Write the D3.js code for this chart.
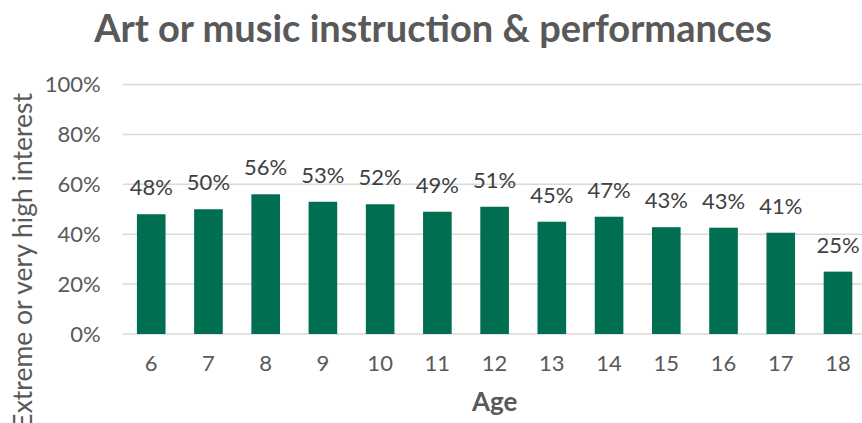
<!DOCTYPE html>
<html>
<head>
<meta charset="utf-8">
<script src="https://cdn.jsdelivr.net/npm/d3@7"></script>
<style>
  body { margin: 0; background: #fff; }
  svg { display: block; font-family: Lato, "Open Sans", sans-serif; }
</style>
</head>
<body>
<div class="chart"></div>
<script>
const ages = ["6", "7", "8", "9", "10", "11", "12", "13", "14", "15", "16", "17", "18"];
const interest = [48, 50, 56, 53, 52, 49, 51, 45, 47, 42.8, 42.6, 40.6, 25];
const yTicks = [0, 20, 40, 60, 80, 100];

const width = 862, height = 423;
const plot = { left: 122.6, right: 866.6, top: 84.5, bottom: 334 };

const svg = d3.select(".chart")
  .append("svg")
  .attr("width", width)
  .attr("height", height);

const x = d3.scaleBand()
  .domain(ages)
  .range([plot.left, plot.right])
  .paddingInner(0.5)
  .paddingOuter(0.25);

const y = d3.scaleLinear()
  .domain([0, 100])
  .range([plot.bottom, plot.top]);

// gridlines
svg.append("g")
  .selectAll("line")
  .data(yTicks)
  .join("line")
  .attr("x1", plot.left)
  .attr("x2", width)
  .attr("y1", d => y(d))
  .attr("y2", d => y(d))
  .attr("stroke", "#d9d9d9")
  .attr("stroke-width", 1.5);

// y axis labels
const yAxis = svg.append("g")
  .attr("transform", `translate(${plot.left - 22},0)`)
  .call(d3.axisLeft(y).tickValues(yTicks).tickFormat(d => d + "%").tickSize(0).tickPadding(0));
yAxis.select(".domain").remove();
yAxis.selectAll("text")
  .attr("font-size", 22)
  .attr("font-family", "Lato, sans-serif")
  .attr("fill", "#595959");

// x axis labels
const xAxis = svg.append("g")
  .attr("transform", `translate(0,${plot.bottom})`)
  .call(d3.axisBottom(x).tickSize(0).tickPadding(21));
xAxis.select(".domain").remove();
xAxis.selectAll("text")
  .attr("font-size", 22)
  .attr("font-family", "Lato, sans-serif")
  .attr("fill", "#595959");

// bars
svg.append("g")
  .selectAll("rect")
  .data(interest)
  .join("rect")
  .attr("x", (d, i) => x(ages[i]))
  .attr("y", d => y(d))
  .attr("width", x.bandwidth())
  .attr("height", d => y(0) - y(d))
  .attr("fill", "#006e51");

// value labels
svg.append("g")
  .selectAll("text")
  .data(interest)
  .join("text")
  .attr("x", (d, i) => x(ages[i]) + x.bandwidth() / 2)
  .attr("y", d => y(d) - 19)
  .attr("text-anchor", "middle")
  .attr("font-size", 22)
  .attr("fill", "#404040")
  .text(d => Math.round(d) + "%");

// title
svg.append("text")
  .attr("x", 433)
  .attr("y", 42)
  .attr("text-anchor", "middle")
  .attr("font-size", 38)
  .attr("font-weight", "bold")
  .attr("fill", "#595959")
  .text("Art or music instruction & performances");

// axis titles
svg.append("text")
  .attr("x", (plot.left + plot.right) / 2)
  .attr("y", 411)
  .attr("text-anchor", "middle")
  .attr("font-size", 26)
  .attr("font-weight", "bold")
  .attr("fill", "#595959")
  .text("Age");

svg.append("text")
  .attr("transform", "translate(32,93) rotate(-90)")
  .attr("text-anchor", "end")
  .attr("font-size", 26.5)
  .attr("fill", "#595959")
  .text("Extreme or very high interest");
</script>
</body>
</html>
